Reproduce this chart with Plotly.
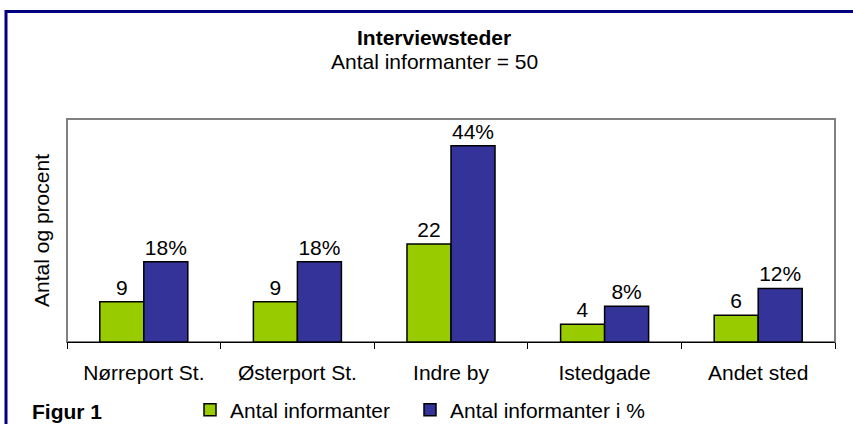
import plotly.graph_objects as go

categories = ["Nørreport St.", "Østerport St.", "Indre by", "Istedgade", "Andet sted"]
antal = [9, 9, 22, 4, 6]
procent = [18, 18, 44, 8, 12]
series_names = ["Antal informanter", "Antal informanter i %"]

FONT = "Liberation Sans, Arial, sans-serif"
FS = 21
W, H = 853, 424
# plot area in page pixels
PL, PR, PT, PB = 67, 835, 119, 342
L, R, T, B = PL, W - PR, PT, H - PB
pw, ph = PR - PL, PB - PT

def px(x):
    return (x - PL) / pw

def py(y):
    return (PB - y) / ph

fig = go.Figure()
fig.add_trace(go.Bar(
    x=categories, y=antal, name=series_names[0], legend="legend",
    marker=dict(color="#99CC00", line=dict(color="black", width=1.5)),
    text=[str(v) for v in antal], textposition="outside",
    textfont=dict(size=FS, color="black", family=FONT), cliponaxis=False,
))
fig.add_trace(go.Bar(
    x=categories, y=procent, name=series_names[1], legend="legend2",
    marker=dict(color="#333399", line=dict(color="black", width=1.5)),
    text=[f"{v}%" for v in procent], textposition="outside",
    textfont=dict(size=FS, color="black", family=FONT), cliponaxis=False,
))

leg_common = dict(orientation="h", yanchor="middle", xanchor="left",
                  font=dict(size=FS, family=FONT), bgcolor="rgba(0,0,0,0)")

fig.update_layout(
    width=W, height=H,
    margin=dict(l=L, r=R, t=T, b=B, pad=0, autoexpand=False),
    paper_bgcolor="white", plot_bgcolor="white",
    font=dict(family=FONT, size=FS, color="black"),
    barmode="group", bargap=0.427, bargroupgap=0,
    showlegend=True,
    legend=dict(x=px(190), y=py(410), **leg_common),
    legend2=dict(x=px(410), y=py(410), **leg_common),
    xaxis=dict(showline=True, linecolor="black", linewidth=1, ticks="outside",
               tickson="boundaries", ticklen=6, tickcolor="black",
               ticklabelstandoff=12, automargin=False,
               tickfont=dict(size=FS, family=FONT), showgrid=False, zeroline=False,
               fixedrange=True),
    yaxis=dict(range=[0, 50], showticklabels=False, showgrid=False, zeroline=False,
               showline=False, ticks="", automargin=False, fixedrange=True,
               title=dict(text="Antal og procent", font=dict(size=FS, family=FONT), standoff=10)),
    shapes=[
        dict(type="rect", xref="paper", yref="paper", x0=0, x1=1, y0=0, y1=1,
             line=dict(color="#808080", width=2), layer="below"),
        dict(type="line", xref="paper", yref="paper", x0=px(6), x1=px(W + 20), y0=py(11.5), y1=py(11.5),
             line=dict(color="#000080", width=3)),
        dict(type="line", xref="paper", yref="paper", x0=px(6), x1=px(6), y0=py(10), y1=py(H + 20),
             line=dict(color="#000080", width=3)),
    ],
    annotations=[
        dict(text="<b>Interviewsteder</b>", xref="paper", yref="paper", x=px(434), y=py(37),
             showarrow=False, font=dict(size=FS, family=FONT), xanchor="center", yanchor="middle"),
        dict(text="Antal informanter = 50", xref="paper", yref="paper", x=px(434), y=py(62),
             showarrow=False, font=dict(size=FS, family=FONT), xanchor="center", yanchor="middle"),
        dict(text="<b>Figur 1</b>", xref="paper", yref="paper", x=px(30), y=py(411),
             showarrow=False, font=dict(size=FS, family=FONT), xanchor="left", yanchor="middle"),
    ],
)

fig.write_html(
    "out.html",
    config={"displayModeBar": False},
    post_script="document.body.style.margin='0';document.body.style.overflow='hidden';",
)
